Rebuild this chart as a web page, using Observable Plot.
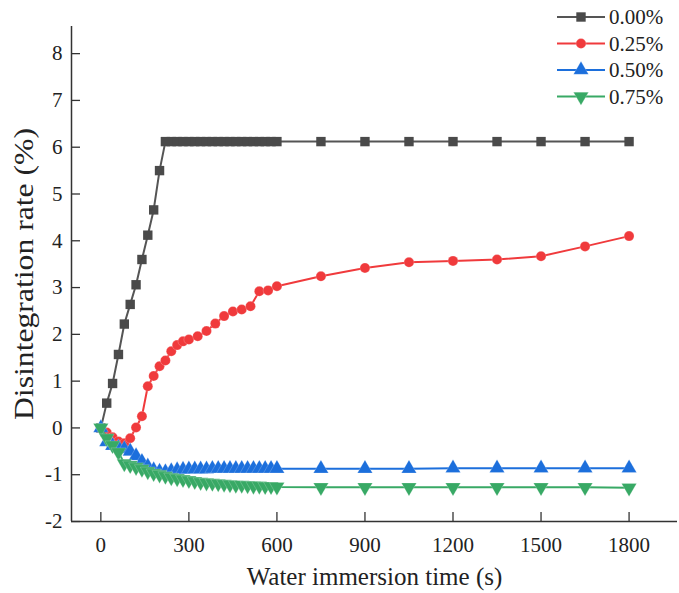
<!DOCTYPE html>
<html><head><meta charset="utf-8">
<script src="https://cdn.jsdelivr.net/npm/d3@7"></script>
<script src="https://cdn.jsdelivr.net/npm/@observablehq/plot@0.6"></script>
<style>
body{margin:0;background:#fff;}
#wrap{position:relative;width:679px;height:593px;font-family:'Liberation Serif';}
#legend{position:absolute;left:0;top:0;pointer-events:none;}
</style></head><body><div id="wrap"></div>
<script>
// ---- data ----
const timesA = [0,20,40,60,80,100,120,140,160,180,200,220,240,260,280,300,320,340,360,380,400,420,440,460,480,500,520,540,560,580,600,750,900,1050,1200,1350,1500,1650,1800];
const timesRed = [0,20,40,60,80,100,120,140,160,180,200,220,240,260,280,300,330,360,390,420,450,480,510,540,570,600,750,900,1050,1200,1350,1500,1650,1800];
const rate000 = [0,0.53,0.95,1.57,2.22,2.64,3.06,3.60,4.12,4.66,5.50,
  6.12,6.12,6.12,6.12,6.12,6.12,6.12,6.12,6.12,6.12,6.12,6.12,6.12,6.12,6.12,6.12,6.12,6.12,6.12,6.12,
  6.12,6.12,6.12,6.12,6.12,6.12,6.12,6.12];
const rate025 = [0,-0.10,-0.20,-0.29,-0.33,-0.22,0.01,0.25,0.89,1.11,1.32,1.44,1.64,1.77,1.85,1.89,
  1.96,2.07,2.23,2.39,2.49,2.53,2.60,2.92,2.94,3.03,
  3.24,3.42,3.54,3.57,3.60,3.67,3.88,4.10];
const rate050 = [0,-0.30,-0.38,-0.42,-0.45,-0.50,-0.60,-0.72,-0.82,-0.90,-0.93,
  -0.94,-0.92,-0.90,-0.89,-0.88,-0.88,-0.88,-0.88,-0.87,-0.87,
  -0.87,-0.87,-0.87,-0.87,-0.87,-0.87,-0.87,-0.87,-0.87,-0.87,
  -0.87,-0.87,-0.87,-0.86,-0.86,-0.86,-0.86,-0.86];
const rate075 = [0,-0.22,-0.37,-0.52,-0.76,-0.80,-0.84,-0.88,-0.93,-0.97,-1.00,
  -1.03,-1.06,-1.08,-1.10,-1.12,-1.14,-1.16,-1.17,-1.18,-1.19,
  -1.20,-1.21,-1.22,-1.22,-1.23,-1.24,-1.24,-1.25,-1.25,-1.26,
  -1.27,-1.27,-1.27,-1.27,-1.27,-1.27,-1.27,-1.28];
const seriesNames = ["0.00%","0.25%","0.50%","0.75%"];
const xTicks = [0,300,600,900,1200,1500,1800];
const yTicks = [-2,-1,0,1,2,3,4,5,6,7,8];
const xDomain = [-100, 1965];
const yDomain = [-2, 8.58];

// ---- styling ----
const FONT = "Liberation Serif";
const colors = ["#4a4a4a","#f03a3c","#1c6fdc","#38a965"];
const lineColors = ["#555555","#f03a3c","#1c6fdc","#38a965"];
const triangleDown = {draw(context, size){
  const y = -Math.sqrt(size/(Math.sqrt(3)*3));
  context.moveTo(0,-2*y);
  context.lineTo(-Math.sqrt(3)*y, y);
  context.lineTo(Math.sqrt(3)*y, y);
  context.closePath();
}};
const symbols = ["square","circle","triangle",triangleDown];
const radii = [5.3,5.0,5.6,5.6];
const outline = ["none","white","white","white"];

const seriesData = [
  timesA.map((t,i)=>({t, v: rate000[i]})),
  timesRed.map((t,i)=>({t, v: rate025[i]})),
  timesA.map((t,i)=>({t, v: rate050[i]})),
  timesA.map((t,i)=>({t, v: rate075[i]}))
];

const W = 679, H = 593, mL = 71, mR = 2, mT = 26, mB = 72;
const plotW = W - mL - mR, plotH = H - mT - mB;
const axisColor = "#333";

const marks = [];
seriesData.forEach((d,i)=>{
  marks.push(Plot.line(d, {x:"t", y:"v", stroke: lineColors[i], strokeWidth: 2}));
  marks.push(Plot.dot(d, {x:"t", y:"v", symbol: symbols[i], r: radii[i], fill: colors[i], stroke: outline[i], strokeWidth: 0.6, strokeOpacity: 0.35}));
});

const chart = Plot.plot({
  width: W, height: H,
  marginLeft: mL, marginRight: mR, marginTop: mT, marginBottom: mB,
  style: {fontFamily: FONT, fontSize: "21px", color: "#222", background: "white"},
  x: {domain: xDomain},
  y: {domain: yDomain},
  marks: [
    ...marks,
    Plot.tickY(yTicks, {y: d=>d, stroke: axisColor, strokeWidth: 1.3, insetRight: plotW - 9}),
    Plot.tickX(xTicks, {x: d=>d, stroke: axisColor, strokeWidth: 1.3, insetTop: plotH - 9}),
    Plot.ruleY([yDomain[0]], {stroke: axisColor, strokeWidth: 1.5}),
    Plot.ruleX([xDomain[0]], {stroke: axisColor, strokeWidth: 1.5}),
    Plot.axisX(xTicks, {tickSize: 0, tickPadding: 16, fontSize: 21, fontFamily: FONT, tickFormat: d=>String(d),
      label: "Water immersion time (s)", labelAnchor: "center", labelArrow: "none", labelOffset: 63}),
    Plot.axisY(yTicks, {tickSize: 0, tickPadding: 9, fontSize: 21, fontFamily: FONT, tickFormat: d=>String(d),
      label: "Disintegration rate (%)", labelAnchor: "center", labelArrow: "none", labelOffset: 58})
  ]
});
document.getElementById("wrap").appendChild(chart);

// force serif font on every text element
d3.select(chart).selectAll("text").attr("font-family", FONT).style("font-family", FONT);
d3.select(chart).selectAll("g").filter(function(){ return this.hasAttribute("font-family"); }).attr("font-family", FONT);
// axis label sizing
d3.select(chart).selectAll('[aria-label="x-axis label"] text').style("font-size","25px");
d3.select(chart).selectAll('[aria-label="y-axis label"] text').style("font-size","28px")
  .attr("textLength", 292).attr("lengthAdjust","spacingAndGlyphs");

// ---- legend overlay ----
const leg = d3.select("#wrap").append("svg").attr("id","legend").attr("width",W).attr("height",120);
const legY = [17, 43.5, 70, 96.5];
seriesNames.forEach((name,i)=>{
  const g = leg.append("g").attr("transform",`translate(0,${legY[i]})`);
  g.append("line").attr("x1",557).attr("x2",605).attr("y1",0).attr("y2",0)
    .attr("stroke",lineColors[i]).attr("stroke-width",2);
  const symType = typeof symbols[i] === "string"
    ? {square: d3.symbolSquare, circle: d3.symbolCircle, triangle: d3.symbolTriangle}[symbols[i]]
    : symbols[i];
  g.append("path").attr("transform","translate(581,0)")
    .attr("d", d3.symbol(symType, Math.PI*radii[i]*radii[i])())
    .attr("fill",colors[i]).attr("stroke",outline[i]).attr("stroke-width",0.6).attr("stroke-opacity",0.35);
  g.append("text").attr("x",609).attr("y",0).attr("dy","0.35em")
    .attr("font-family",FONT).style("font-family",FONT).style("font-size","21px")
    .attr("fill","#222").text(name);
});
</script></body></html>
